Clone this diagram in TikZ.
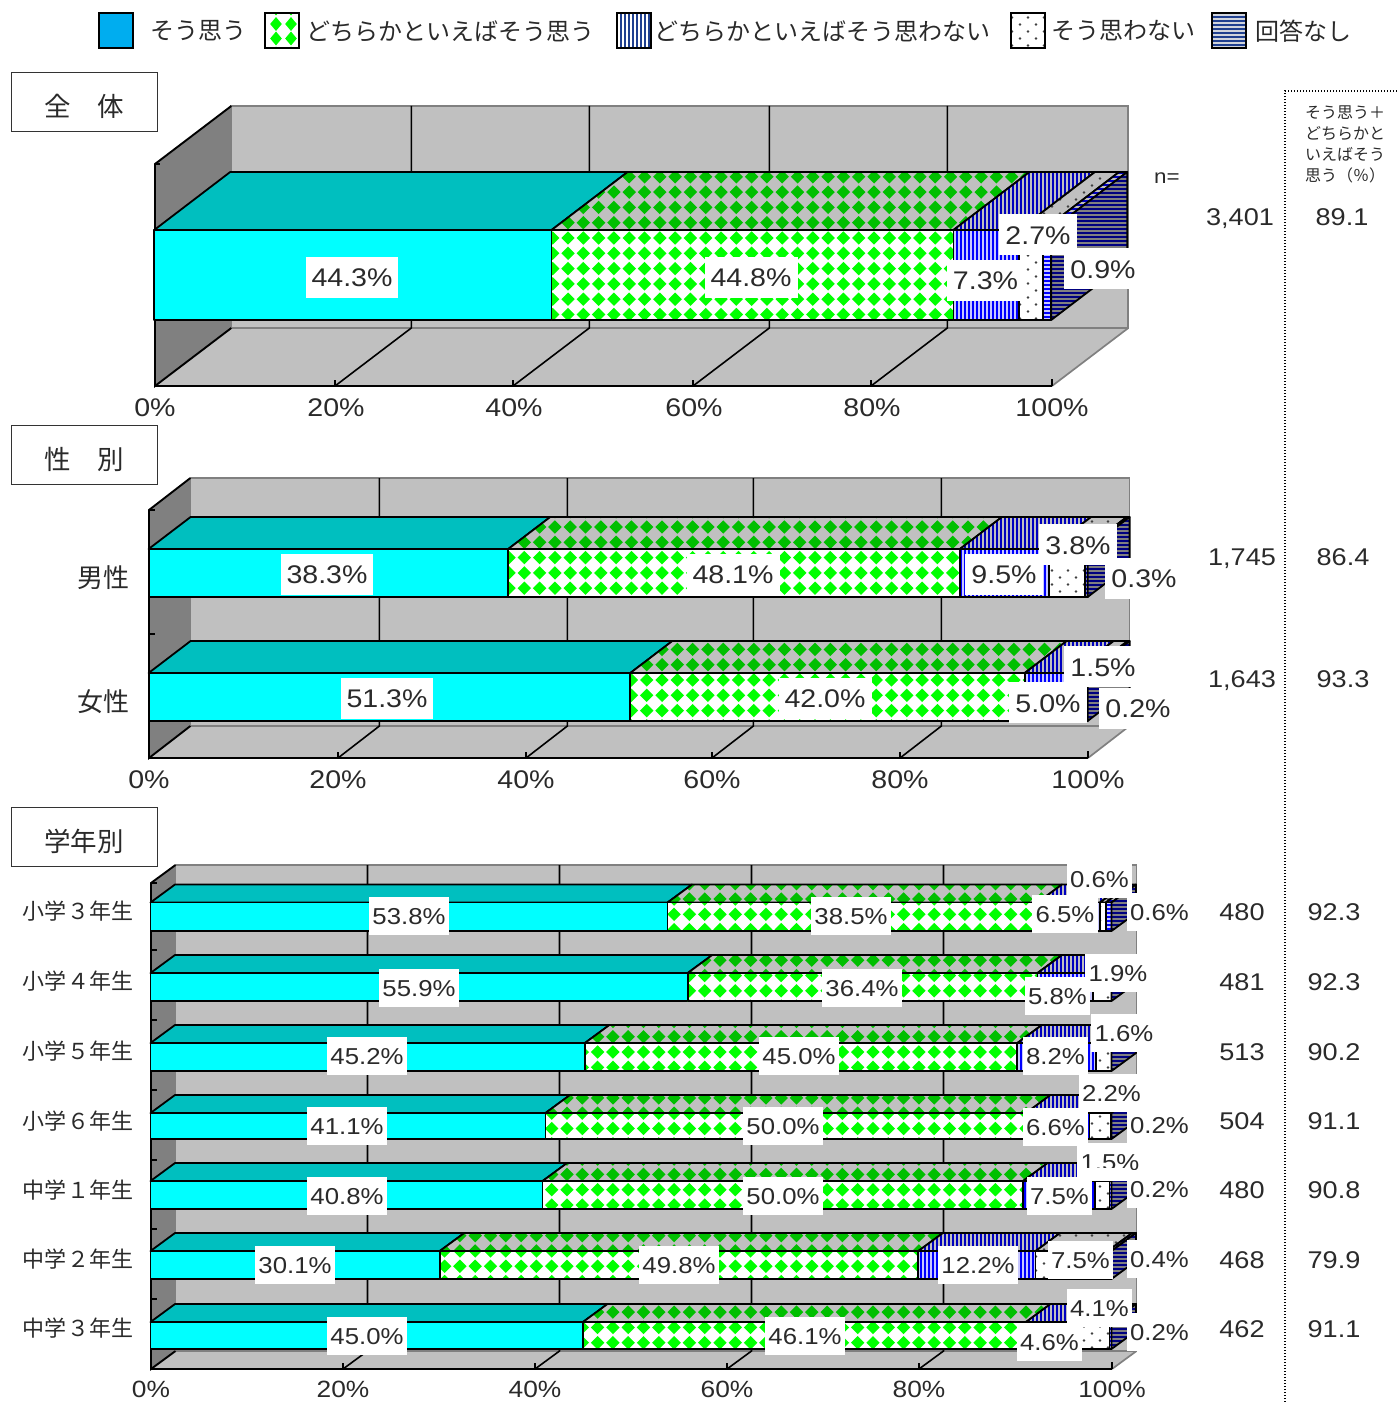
\documentclass[tikz,border=0pt]{standalone}
\usepackage{fontspec}
\setmainfont{Liberation Sans}
\newfontfamily\jp{Noto Sans CJK JP}
\newfontfamily\num[FakeStretch=1.12]{Liberation Sans}
\definecolor{wallg}{HTML}{C0C0C0}
\definecolor{sideg}{HTML}{808080}
\definecolor{cyanf}{HTML}{00FFFF}
\definecolor{cyant}{HTML}{00BFBF}
\definecolor{greenf}{HTML}{00FF00}
\definecolor{greent}{HTML}{00BF00}
\definecolor{bluef}{HTML}{0000FF}
\definecolor{bluet}{HTML}{0000BF}
\definecolor{lav}{HTML}{C8C8FF}
\definecolor{navy}{HTML}{000080}
\definecolor{legblue}{HTML}{00ADEF}
\definecolor{legnavy}{HTML}{1F3F8F}
\definecolor{legpale}{HTML}{D0D4DC}
\definecolor{dotc}{HTML}{404040}
\definecolor{txt}{HTML}{2A2A2A}
\tikzset{
 edge/.style={draw=black,line width=1.8pt,line join=round},
 wall/.style={fill=wallg},
 sidewall/.style={fill=sideg},
 frameline/.style={draw=sideg,line width=1.7pt},
 axisline/.style={draw=black,line width=1.9pt},
 gridline/.style={draw=black,line width=1.6pt},
 dotline/.style={draw=black,line width=1.1pt,dash pattern=on 1.1pt off 1.9pt},
 titlebox/.style={draw=black!80,line width=1pt,fill=white,inner sep=0pt,font=\jp\fontsize{26.5}{27}\selectfont,text=txt},
 lgtxt/.style={font=\jp\fontsize{24}{24}\selectfont,text=txt,inner sep=0pt},
 catA/.style={font=\jp\fontsize{26}{26}\selectfont,text=txt,inner sep=0pt},
 catB/.style={font=\jp\fontsize{22}{22}\selectfont,text=txt,inner sep=0pt},
 headtxt/.style={font=\jp\fontsize{16}{21}\selectfont,text=txt,inner sep=0pt,align=left},
 tick/.style={font=\num\fontsize{25.5}{26}\selectfont,text=txt,inner sep=0pt,text height=19pt,text depth=0pt},
 tickC/.style={font=\num\fontsize{23.5}{24}\selectfont,text=txt,inner sep=0pt,text height=18pt,text depth=0pt},
 nlab/.style={font=\num\fontsize{20}{20}\selectfont,text=txt,inner sep=0pt},
 valA/.style={font=\num\fontsize{24.2}{26}\selectfont,text=txt,inner sep=0pt,text height=18pt,text depth=0pt},
 lbA/.style={font=\num\fontsize{25.5}{26}\selectfont,text=txt,fill=white,inner ysep=0pt,inner xsep=6pt,minimum height=41pt,text height=19pt,text depth=0pt},
 lbC/.style={font=\num\fontsize{23}{24}\selectfont,text=txt,fill=white,inner ysep=0pt,inner xsep=3.5pt,minimum height=38pt,text height=17.5pt,text depth=0pt},
}
\newcount\nodenum
\newcommand{\lab}[4]{\global\advance\nodenum by 1 \node[#1] (t\the\nodenum) at (#2,#3) {#4};}
% hatch fills: xmin xmax ymin ymax colour
\def\phx{1.9}\def\phy{8.5}
\newcommand{\hatchN}[5]{}
\newcommand{\hatchD}[5]{%
 \pgfmathtruncatemacro\hja{floor((#3-\phy)/15.3)-1}\pgfmathtruncatemacro\hjb{ceil((#4-\phy)/15.3)+1}%
 \pgfmathtruncatemacro\hia{floor((#1-\phx)/15.3)-1}\pgfmathtruncatemacro\hib{ceil((#2-\phx)/15.3)+1}%
 \foreach \hv in {\hja,...,\hjb}{%
  \pgfmathsetmacro\hy{\phy+\hv*15.3}%
  \foreach \hu in {\hia,...,\hib}{%
   \pgfmathsetmacro\hx{\phx+\hu*15.3}%
   \fill[#5] (\hx-6.7,\hy) -- (\hx,\hy-6.7) -- (\hx+6.7,\hy) -- (\hx,\hy+6.7) -- cycle;}}}
\newcommand{\hatchV}[5]{%
 \pgfmathtruncatemacro\hia{floor((#1)/4)-1}\pgfmathtruncatemacro\hib{ceil((#2)/4)+1}%
 \foreach \hu in {\hia,...,\hib}{%
  \pgfmathsetmacro\hx{\hu*4}%
  \fill[#5] (\hx,#3) rectangle (\hx+1.6,#4);}}
\newcommand{\hatchH}[5]{%
 \pgfmathtruncatemacro\hia{floor((#3)/4)-1}\pgfmathtruncatemacro\hib{ceil((#4)/4)+1}%
 \foreach \hu in {\hia,...,\hib}{%
  \pgfmathsetmacro\hy{\hu*4}%
  \fill[#5] (#1,\hy) rectangle (#2,\hy+1.6);}}
\newcommand{\hatchP}[5]{%
 \pgfmathtruncatemacro\hja{floor((#3)/7)-1}\pgfmathtruncatemacro\hjb{ceil((#4)/7)+1}%
 \pgfmathtruncatemacro\hia{floor((#1)/16)-1}\pgfmathtruncatemacro\hib{ceil((#2)/16)+1}%
 \foreach \hv in {\hja,...,\hjb}{%
  \pgfmathsetmacro\hy{\hv*7+3.5}\pgfmathsetmacro\ho{mod(\hv,2)*8+4}%
  \foreach \hu in {\hia,...,\hib}{%
   \pgfmathsetmacro\hx{\ho+\hu*16}%
   \fill[#5] (\hx,\hy) circle[radius=1.3];}}}
% face: path, kind, background, foreground, xmin xmax ymin ymax
\newcommand{\face}[8]{%
 \begin{scope}\clip #1;\fill[#3] (#5,#7) rectangle (#6,#8);\csname hatch#2\endcsname{#5}{#6}{#7}{#8}{#4}\end{scope}%
 \draw[edge] #1;}
% x0, width, ytop, ybot, dx, dy, percentages
\newcommand{\barrow}[7]{%
 \gdef\cumv{0}%
 \foreach \p [count=\i] in {#7}{%
  \pgfmathsetmacro\xa{#1+#2*(\cumv/100)}%
  \pgfmathsetmacro\newc{\cumv+\p}%
  \xdef\cumv{\newc}%
  \pgfmathsetmacro\xb{#1+#2*(\cumv/100)}%
  \pgfmathsetmacro\xc{\xa+#5}%
  \pgfmathsetmacro\xd{\xb+#5}%
  \pgfmathsetmacro\yy{#3-#6}%
  \ifcase\i\or
   \def\kd{N}\def\fb{cyanf}\def\fc{black}\def\tb{cyant}\def\tc{black}\or
   \def\kd{D}\def\fb{white}\def\fc{greenf}\def\tb{wallg}\def\tc{greent}\or
   \def\kd{V}\def\fb{lav}\def\fc{bluef}\def\tb{wallg}\def\tc{bluet}\or
   \def\kd{P}\def\fb{white}\def\fc{dotc}\def\tb{wallg}\def\tc{dotc}\or
   \def\kd{H}\def\fb{lav}\def\fc{bluef}\def\tb{wallg}\def\tc{bluet}\fi
  \face{(\xa,#3) -- (\xc,\yy) -- (\xd,\yy) -- (\xb,#3) -- cycle}{\kd}{\tb}{\tc}{\xa}{\xd}{\yy}{#3}%
  \face{(\xa,#3) rectangle (\xb,#4)}{\kd}{\fb}{\fc}{\xa}{\xb}{#3}{#4}%
  \ifnum\i=5
   \pgfmathsetmacro\yz{#4-#6}%
   \face{(\xb,#3) -- (\xd,\yy) -- (\xd,\yz) -- (\xb,#4) -- cycle}{H}{sideg}{navy}{\xb}{\xd}{\yy}{#4}%
  \fi
 }}
% walls: x0, ytopfront, ybotfront, width, dx, dy, front tick xs
\newcommand{\walls}[7]{%
 \pgfmathsetmacro\wxl{#1+#5}\pgfmathsetmacro\wxr{#1+#4+#5}\pgfmathsetmacro\wxf{#1+#4}%
 \pgfmathsetmacro\wyt{#2-#6}\pgfmathsetmacro\wyb{#3-#6}%
 \path[wall] (\wxl,\wyt) rectangle (\wxr,\wyb);
 \path[sidewall] (#1,#2) -- (\wxl,\wyt) -- (\wxl,\wyb) -- (#1,#3) -- cycle;
 \path[wall] (#1,#3) -- (\wxl,\wyb) -- (\wxr,\wyb) -- (\wxf,#3) -- cycle;
 \draw[frameline] (\wxl,\wyb) -- (\wxl,\wyt) -- (\wxr,\wyt) -- (\wxr,\wyb) -- (\wxl,\wyb);
 \draw[frameline] (\wxr,\wyb) -- (\wxf,#3);
 \foreach \tx in {#7}{%
  \pgfmathsetmacro\txb{\tx+#5}%
  \draw[gridline] (\txb,\wyt) -- (\txb,\wyb) -- (\tx,#3);
 }
 \draw[axisline] (\wxl,\wyt) -- (#1,#2) -- (#1,#3) -- (\wxl,\wyb);
 \draw[axisline] (#1,#3) -- (\wxf,#3);
 \draw[gridline] (\wxf,#3) -- (\wxf,#3-7);
 \foreach \tx in {#7}{\draw[gridline] (\tx,#3) -- (\tx,#3-6);}
}
\begin{document}
\begin{tikzpicture}[x=1pt,y=-1pt]
\useasboundingbox (0,0) rectangle (1398,1402);
% Legend
\begin{scope}[edge/.style={draw=black,line width=1.1pt}]
\face{(99,13) rectangle (133,48)}{N}{legblue}{black}{99}{133}{13}{48}
\begin{scope}\clip (265,13) rectangle (299,48);
 \fill[white] (265,13) rectangle (299,48);
 \foreach \dx/\dy in {276/8.5,291/8.5,276/24,291/24,276/38.5,291/38.5,276/53.5,291/53.5}{
  \fill[greenf] (\dx-5.8,\dy) -- (\dx,\dy-7) -- (\dx+5.8,\dy) -- (\dx,\dy+7) -- cycle;}
\end{scope}
\draw[edge] (265,13) rectangle (299,48);
\face{(617,13) rectangle (651,48)}{V}{white}{legnavy}{617}{651}{13}{48}
\face{(1011,13) rectangle (1045,48)}{P}{white}{dotc}{1011}{1045}{13}{48}
\face{(1212,13) rectangle (1246,48)}{H}{legpale}{legnavy}{1212}{1246}{13}{48}
\end{scope}
\lab{lgtxt}{198}{31}{\jp そう思う}
\lab{lgtxt}{450}{31}{どちらかといえばそう思う}
\lab{lgtxt}{822}{31}{どちらかといえばそう思わない}
\lab{lgtxt}{1123}{31}{そう思わない}
\lab{lgtxt}{1303}{31}{回答なし}
% Titles
\node[titlebox,minimum width=146pt,minimum height=59pt] (ttl1) at (84,102.5) {\smash{\raisebox{-14.5pt}{全　体}}};
\node[titlebox,minimum width=146pt,minimum height=59pt] (ttl2) at (84,454.5) {\smash{\raisebox{-14.5pt}{性　別}}};
\node[titlebox,minimum width=146pt,minimum height=59pt] (ttl3) at (84,836.5) {\smash{\raisebox{-14.5pt}{学年別}}};
% Side rule
\coordinate (ra) at (1285,1402); \coordinate (rb) at (1285,91); \coordinate (rc) at (1398,91);
\draw[dotline] (ra) -- (rb) -- (rc);
% Chart 1
\walls{155}{164}{386}{897}{76.3}{58}{335,513,693,871}
\draw[gridline] (155,164) -- (160,164);
\barrow{154.2}{897}{230}{320}{76}{58}{44.3,44.8,7.3,2.7,0.9}
\lab{lbA}{352}{277}{44.3\%}
\lab{lbA}{751}{277}{44.8\%}
\lab{lbA}{985.5}{280}{7.3\%}
\lab{lbA}{1038}{234.5}{2.7\%}
\lab{lbA}{1103}{268.5}{0.9\%}
\foreach \x/\s in {155/0,336/20,514/40,694/60,872/80,1052/100}{\lab{tick}{\x}{407}{\s\%}}
% Chart 2
\def\phx{4.1}\def\phy{6.8}
\walls{149}{510}{758}{939}{41.4}{32}{338,526,712,900}
\foreach \y in {510,634}{\draw[gridline] (149,\y) -- (155,\y);}
\barrow{148.6}{939}{549}{597}{42}{32}{38.3,48.1,9.5,3.8,0.3}
\barrow{148.6}{939}{673}{721}{42}{32}{51.3,42.0,5.0,1.5,0.2}
\lab{lbA}{327}{574}{38.3\%}
\lab{lbA}{733}{574}{48.1\%}
\lab{lbA}{1004}{574}{9.5\%}
\lab{lbA}{1078}{544.5}{3.8\%}
\lab{lbA}{1144}{578}{0.3\%}
\lab{lbA}{387}{698}{51.3\%}
\lab{lbA}{825}{698}{42.0\%}
\lab{lbA}{1048}{702.5}{5.0\%}
\lab{lbA}{1103}{666.5}{1.5\%}
\lab{lbA}{1138}{708}{0.2\%}
\foreach \x/\s in {149/0,338/20,526/40,712/60,900/80,1088/100}{\lab{tick}{\x}{779}{\s\%}}
\lab{catA}{103}{578}{男性}
\lab{catA}{103}{702}{女性}
% Chart 3
\def\phx{0.9}\def\phy{11.6}
\walls{151}{883}{1369}{961}{24.5}{18}{343,535,727,919}
\foreach \y in {883,950,1020,1090,1160,1229,1299}{\draw[gridline] (151,\y) -- (157,\y);}
\barrow{150.5}{961}{902.5}{931}{24.5}{18}{53.8,38.5,6.5,0.6,0.6}
\barrow{150.5}{961}{973}{1001}{24.5}{18}{55.9,36.4,5.8,1.9,0}
\barrow{150.5}{961}{1043}{1071}{24.5}{18}{45.2,45.0,8.2,1.6,0}
\barrow{150.5}{961}{1113}{1139}{24.5}{18}{41.1,50.0,6.6,2.2,0.1}
\barrow{150.5}{961}{1181}{1209}{24.5}{18}{40.8,50.0,7.5,1.5,0.2}
\barrow{150.5}{961}{1251}{1279}{24.5}{18}{30.1,49.8,12.2,7.5,0.4}
\barrow{150.5}{961}{1322}{1349}{24.5}{18}{45.0,46.1,4.6,4.1,0.2}
\lab{lbC}{409}{916}{53.8\%}\lab{lbC}{851}{916}{38.5\%}\lab{lbC}{1065}{913.5}{6.5\%}\lab{lbC}{1099.5}{878.5}{0.6\%}\lab{lbC}{1159.5}{912}{0.6\%}
\lab{lbC}{419}{988}{55.9\%}\lab{lbC}{862}{988}{36.4\%}\lab{lbC}{1057.5}{996}{5.8\%}\lab{lbC}{1118}{972.5}{1.9\%}
\lab{lbC}{367}{1056}{45.2\%}\lab{lbC}{799}{1056}{45.0\%}\lab{lbC}{1055.5}{1056}{8.2\%}\lab{lbC}{1124}{1032.5}{1.6\%}
\lab{lbC}{347}{1126}{41.1\%}\lab{lbC}{783}{1126}{50.0\%}\lab{lbC}{1055.5}{1127}{6.6\%}\lab{lbC}{1111.5}{1093}{2.2\%}\lab{lbC}{1159.5}{1125}{0.2\%}
\lab{lbC}{347}{1196}{40.8\%}\lab{lbC}{783}{1196}{50.0\%}\lab{lbC}{1059.5}{1195.5}{7.5\%}\lab{lbC}{1110}{1162}{1.5\%}\lab{lbC}{1159.5}{1189}{0.2\%}
\fill[white] (1077,1168) rectangle (1127,1177);
\lab{lbC}{295}{1265}{30.1\%}\lab{lbC}{679}{1265}{49.8\%}\lab{lbC}{978}{1265}{12.2\%}\lab{lbC}{1080.5}{1259.5}{7.5\%}\lab{lbC}{1159.5}{1258.5}{0.4\%}
\lab{lbC}{367}{1336}{45.0\%}\lab{lbC}{805}{1336}{46.1\%}\lab{lbC}{1049.5}{1342}{4.6\%}\lab{lbC}{1099.5}{1307.5}{4.1\%}\lab{lbC}{1159.5}{1332}{0.2\%}
\foreach \x/\s in {151/0,343/20,535/40,727/60,919/80,1112/100}{\lab{tickC}{\x}{1388}{\s\%}}
\foreach \y/\s in {911/小学３年生,981/小学４年生,1051/小学５年生,1121/小学６年生,1190/中学１年生,1259/中学２年生,1328/中学３年生}{\lab{catB}{78}{\y}{\s}}
% Side columns
\lab{nlab}{1167}{178}{n=}
\node[headtxt] (hd) at (1345,144.5) {そう思う＋\\どちらかと\\いえばそう\\思う（％）};
\foreach \x/\y/\s in {1240/216/{3,401},1342/216/89.1,1242/556/{1,745},1343/556/86.4,1242/678/{1,643},1343/678/93.3,
 1242/911/480,1334/911/92.3,1242/981/481,1334/981/92.3,1242/1051/513,1334/1051/90.2,1242/1120/504,1334/1120/91.1,
 1242/1189/480,1334/1189/90.8,1242/1259/468,1334/1259/79.9,1242/1328/462,1334/1328/91.1}{\lab{valA}{\x}{\y}{\s}}
\end{tikzpicture}
\end{document}
